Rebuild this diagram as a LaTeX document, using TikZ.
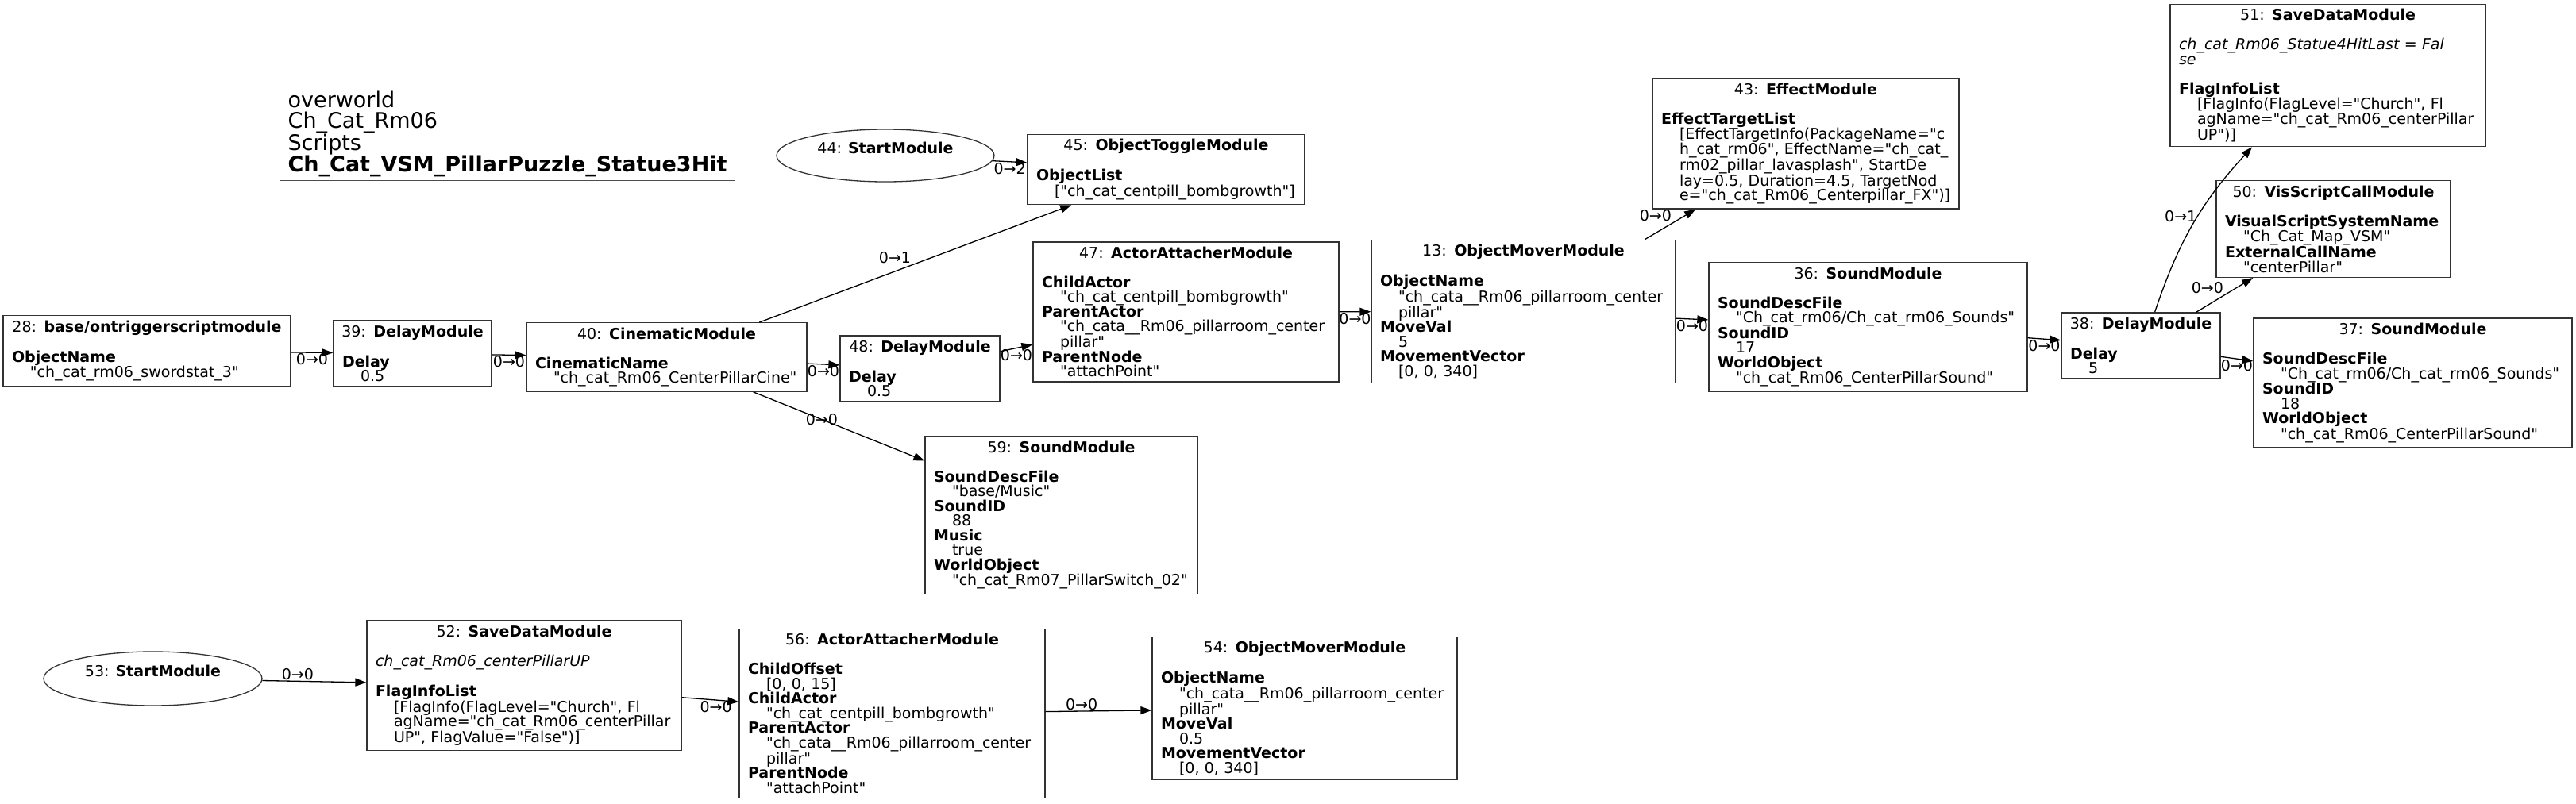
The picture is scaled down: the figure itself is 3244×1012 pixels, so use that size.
\documentclass[tikz,border=0pt]{standalone}
\usepackage{fontspec}
\setmainfont{DejaVu Sans}[Ligatures=TeXOff]
\usetikzlibrary{positioning, shapes.geometric, arrows.meta}

\newcommand\vind{\hspace*{23pt}}
\newcommand\modfont{\fontsize{19}{18.5}\selectfont}
\newcommand\modhead[2]{\makebox[\linewidth]{#1: \textbf{#2}}\\[18.5pt]}

\begin{document}
\begin{tikzpicture}[x=1pt, y=1pt, line width=1.3pt, >={Triangle[length=14pt, width=10pt]},
	m/.style={rectangle, draw=black!80, inner xsep=11pt, inner ysep=6pt, text width=#1, align=left, font=\modfont},
	s/.style={ellipse, draw=black!80, inner sep=0pt, align=center, font=\modfont},
	l/.style={inner sep=1pt, font=\modfont}]
	\useasboundingbox (0,0) rectangle (3244,-1012);

	\node[align=left, anchor=north west, inner sep=0pt, font=\fontsize{27}{26.5}\selectfont] (title) at (362,-114) {overworld\\ Ch\_Cat\_Rm06\\ Scripts\\ \textbf{Ch\_Cat\_VSM\_PillarPuzzle\_Statue3Hit}};
	\draw[line width=1pt, black!70] (352,-227) -- (925,-227);

	\node[m=340pt] (n28) at (185,-442) {\modhead{28}{base/ontriggerscriptmodule}
		\textbf{ObjectName}\\ \vind"ch\_cat\_rm06\_swordstat\_3"};
	\node[m=177pt] (n39) at (519.5,-445.5) {\modhead{39}{DelayModule}
		\textbf{Delay}\\ \vind 0.5};
	\node[m=331pt] (n40) at (839.5,-450) {\modhead{40}{CinematicModule}
		\textbf{CinematicName}\\ \vind"ch\_cat\_Rm06\_CenterPillarCine"};
	\node[m=179pt] (n48) at (1158.5,-464.5) {\modhead{48}{DelayModule}
		\textbf{Delay}\\ \vind 0.5};
	\node[s, minimum width=274pt, minimum height=66pt] (n44) at (1115,-196) {44: \textbf{StartModule}\\ \mbox{}};
	\node[m=327pt] (n45) at (1468.5,-213.5) {\modhead{45}{ObjectToggleModule}
		\textbf{ObjectList}\\ \vind["ch\_cat\_centpill\_bombgrowth"]};
	\node[m=363pt] (n47) at (1493.5,-393) {\modhead{47}{ActorAttacherModule}
		\textbf{ChildActor}\\ \vind"ch\_cat\_centpill\_bombgrowth"\\
		\textbf{ParentActor}\\ \vind"ch\_cata\_\_Rm06\_pillarroom\_center\\ \vind pillar"\\
		\textbf{ParentNode}\\ \vind"attachPoint"};
	\node[m=321pt] (n59) at (1336.5,-649) {\modhead{59}{SoundModule}
		\textbf{SoundDescFile}\\ \vind"base/Music"\\
		\textbf{SoundID}\\ \vind 88\\
		\textbf{Music}\\ \vind true\\
		\textbf{WorldObject}\\ \vind"ch\_cat\_Rm07\_PillarSwitch\_02"};
	\node[m=361pt] (n13) at (1918.5,-392.5) {\modhead{13}{ObjectMoverModule}
		\textbf{ObjectName}\\ \vind"ch\_cata\_\_Rm06\_pillarroom\_center\\ \vind pillar"\\
		\textbf{MoveVal}\\ \vind 5\\
		\textbf{MovementVector}\\ \vind[0,~0,~340]};
	\node[m=364pt] (n43) at (2274,-181) {\modhead{43}{EffectModule}
		\textbf{EffectTargetList}\\
		\vind[EffectTargetInfo(PackageName="c\\
		\vind h\_cat\_rm06",~EffectName="ch\_cat\_\\
		\vind rm02\_pillar\_lavasplash",~StartDe\\
		\vind lay=0.5,~Duration=4.5,~TargetNod\\
		\vind e="ch\_cat\_Rm06\_Centerpillar\_FX")]};
	\node[m=379pt] (n36) at (2352.5,-412) {\modhead{36}{SoundModule}
		\textbf{SoundDescFile}\\ \vind"Ch\_cat\_rm06/Ch\_cat\_rm06\_Sounds"\\
		\textbf{SoundID}\\ \vind 17\\
		\textbf{WorldObject}\\ \vind"ch\_cat\_Rm06\_CenterPillarSound"};
	\node[m=178pt] (n38) at (2696,-435.5) {\modhead{38}{DelayModule}
		\textbf{Delay}\\ \vind 5};
	\node[m=273pt] (n50) at (2938.5,-288.5) {\modhead{50}{VisScriptCallModule}
		\textbf{VisualScriptSystemName}\\ \vind"Ch\_Cat\_Map\_VSM"\\
		\textbf{ExternalCallName}\\ \vind"centerPillar"};
	\node[m=379pt] (n37) at (3038.5,-482.5) {\modhead{37}{SoundModule}
		\textbf{SoundDescFile}\\ \vind"Ch\_cat\_rm06/Ch\_cat\_rm06\_Sounds"\\
		\textbf{SoundID}\\ \vind 18\\
		\textbf{WorldObject}\\ \vind"ch\_cat\_Rm06\_CenterPillarSound"};
	\node[m=375pt] (n51) at (2931.5,-95) {\modhead{51}{SaveDataModule}
		\textit{ch\_cat\_Rm06\_Statue4HitLast~=~Fal}\\
		\textit{se}\\[18.5pt]
		\textbf{FlagInfoList}\\
		\vind[FlagInfo(FlagLevel="Church",~Fl\\
		\vind agName="ch\_cat\_Rm06\_centerPillar\\
		\vind UP")]};

	\node[s, minimum width=275pt, minimum height=68pt] (n53) at (192.5,-855) {53: \textbf{StartModule}\\ \mbox{}};
	\node[m=374pt] (n52) at (660,-863.5) {\modhead{52}{SaveDataModule}
		\textit{ch\_cat\_Rm06\_centerPillarUP}\\[18.5pt]
		\textbf{FlagInfoList}\\
		\vind[FlagInfo(FlagLevel="Church",~Fl\\
		\vind agName="ch\_cat\_Rm06\_centerPillar\\
		\vind UP",~FlagValue="False")]};
	\node[m=363pt] (n56) at (1123.5,-899) {\modhead{56}{ActorAttacherModule}
		\textbf{ChildOffset}\\ \vind[0,~0,~15]\\
		\textbf{ChildActor}\\ \vind"ch\_cat\_centpill\_bombgrowth"\\
		\textbf{ParentActor}\\ \vind"ch\_cata\_\_Rm06\_pillarroom\_center\\ \vind pillar"\\
		\textbf{ParentNode}\\ \vind"attachPoint"};
	\node[m=362pt] (n54) at (1643,-892.5) {\modhead{54}{ObjectMoverModule}
		\textbf{ObjectName}\\ \vind"ch\_cata\_\_Rm06\_pillarroom\_center\\ \vind pillar"\\
		\textbf{MoveVal}\\ \vind 0.5\\
		\textbf{MovementVector}\\ \vind[0,~0,~340]};

	\path[->] (n28) edge node [l, below] {0→0} (n39);
	\path[->] (n39) edge node [l, below] {0→0} (n40);
	\path[->] (n40) edge node [l, pos=0.49, above left] {0→1} (n45);
	\path[->] (n40) edge node [l, below] {0→0} (n48);
	\path[->] (n40) edge node [l, pos=0.4] {0→0} (n59);
	\path[->] (n44) edge node [l, below] {0→2} (n45);
	\path[->] (n48) edge node [l, below] {0→0} (n47);
	\path[->] (n47) edge node [l, below] {0→0} (n13);
	\path[->] (n13) edge node [l, pos=0.55, above left] {0→0} (n43);
	\path[->] (n13) edge node [l, below] {0→0} (n36);
	\path[->] (n36) edge node [l, below] {0→0} (n38);
	\path[->] (n38) edge [bend left=12] node [l, pos=0.55, left] {0→1} (n51);
	\path[->] (n38) edge node [l, pos=0.5, above left] {0→0} (n50);
	\path[->] (n38) edge node [l, below] {0→0} (n37);
	\path[->] (n53) edge node [l, pos=0.34, above] {0→0} (n52);
	\path[->] (n52) edge node [l, pos=0.6, below] {0→0} (n56);
	\path[->] (n56) edge node [l, pos=0.34, above] {0→0} (n54);
\end{tikzpicture}
\end{document}
